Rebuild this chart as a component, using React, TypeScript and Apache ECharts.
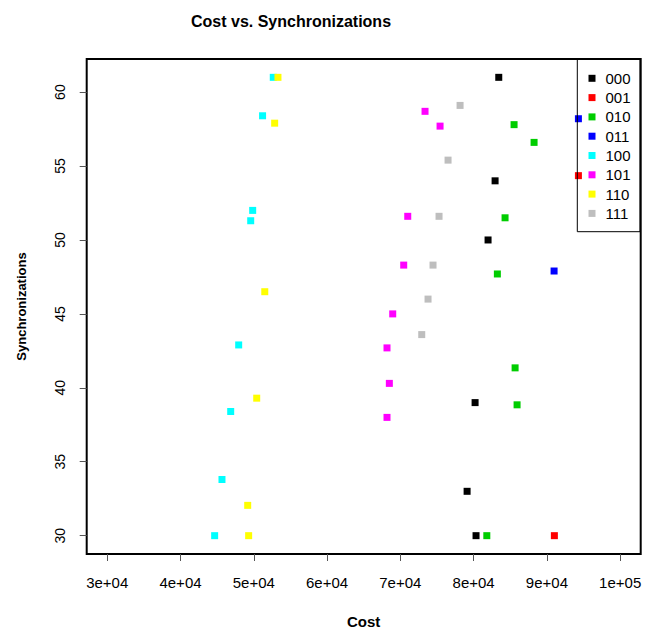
import React, { useEffect, useRef } from "react";
import * as echarts from "echarts";

// ---- data ----
const categories = ["000", "001", "010", "011", "100", "101", "110", "111"];
const colors = ["#000000", "#FF0000", "#00CD00", "#0000FF", "#00FFFF", "#FF00FF", "#FFFF00", "#BEBEBE"];

const cost000 = [83430, 82930, 81970, 80200, 79110, 80330];
const sync000 = [61, 54.0, 50.0, 39.0, 33.0, 30];
const cost001 = [94300, 91020];
const sync001 = [54.35, 30];
const cost010 = [85520, 88250, 84290, 83240, 85660, 85930, 81800];
const sync010 = [57.8, 56.6, 51.5, 47.7, 41.35, 38.85, 30];
const cost011 = [94300, 90980];
const sync011 = [58.2, 47.9];
const cost100 = [52660, 51200, 49850, 49580, 47940, 46850, 45660, 44660];
const sync100 = [61, 58.4, 52.0, 51.3, 42.9, 38.4, 33.8, 30];
const cost101 = [73370, 75420, 71010, 70460, 68960, 68180, 68500, 68180];
const sync101 = [58.7, 57.7, 51.6, 48.3, 45.0, 42.7, 40.3, 38.0];
const cost110 = [53300, 52850, 51500, 50400, 49170, 49300];
const sync110 = [61, 57.9, 46.5, 39.3, 32.05, 30];
const cost111 = [78150, 76510, 75280, 74460, 73780, 72920];
const sync111 = [59.1, 55.4, 51.6, 48.3, 46.0, 43.6];

const costs = [cost000, cost001, cost010, cost011, cost100, cost101, cost110, cost111];
const syncs = [sync000, sync001, sync010, sync011, sync100, sync101, sync110, sync111];

const xTicks = [30000, 40000, 50000, 60000, 70000, 80000, 90000, 100000];
const yTicks = [30, 35, 40, 45, 50, 55, 60];

const titleText = "Cost vs. Synchronizations";
const xName = "Cost";
const yName = "Synchronizations";

const FONT = "'Liberation Sans', Arial, Helvetica, sans-serif";

function sci(v: number): string {
  const e = Math.floor(Math.log10(v));
  const m = Math.round(v / Math.pow(10, e));
  return `${m}e+${String(e).padStart(2, "0")}`;
}

export default function App() {
  const ref = useRef<HTMLDivElement>(null);
  useEffect(() => {
    if (!ref.current) return;
    const chart = echarts.init(ref.current, null, { renderer: "svg" });
    const xmin = 30000, xmax = 100000;
    const xpad = (xmax - xmin) * 0.04;
    const ymin = 30, ymax = 61;
    const ypad = (ymax - ymin) * 0.04;
    chart.setOption({
      animation: false,
      backgroundColor: "#ffffff",
      textStyle: { fontFamily: FONT },
      graphic: [
        {
          type: "text",
          x: 291,
          y: 21,
          style: {
            text: titleText,
            textAlign: "center",
            textVerticalAlign: "middle",
            fontFamily: FONT,
            fontWeight: "bold",
            fontSize: 16,
            fill: "#000",
          },
        },
      ],
      grid: {
        left: 86.7,
        right: 9.3,
        top: 59,
        bottom: 78,
        containLabel: false,
        outerBoundsMode: "none",
        show: true,
        borderColor: "#000",
        borderWidth: 2,
        backgroundColor: "transparent",
      },
      legend: {
        orient: "vertical",
        left: 577.3,
        top: 59,
        padding: [11.8, 9.5, 10.8, 11.2],
        itemGap: 4.3,
        itemWidth: 7,
        itemHeight: 7,
        icon: "rect",
        borderColor: "#000",
        borderWidth: 1,
        backgroundColor: "transparent",
        textStyle: {
          fontFamily: FONT,
          fontSize: 15,
          lineHeight: 15,
          color: "#000",
          padding: [0, 0, 0, 5],
        },
        data: categories,
      },
      xAxis: {
        type: "value",
        min: xmin - xpad,
        max: xmax + xpad,
        name: xName,
        nameLocation: "middle",
        nameGap: 60,
        nameTextStyle: { fontFamily: FONT, fontWeight: "bold", fontSize: 15, color: "#000" },
        axisLine: { show: false },
        splitLine: { show: false },
        axisTick: {
          show: true,
          length: 7,
          customValues: xTicks,
          lineStyle: { color: "#555", width: 1 },
        },
        axisLabel: {
          customValues: xTicks,
          formatter: (v: number) => sci(v),
          margin: 21,
          fontFamily: FONT,
          fontSize: 15,
          color: "#000",
        },
      },
      yAxis: {
        type: "value",
        min: ymin - ypad,
        max: ymax + ypad,
        name: yName,
        nameLocation: "middle",
        nameGap: 59,
        nameTextStyle: { fontFamily: FONT, fontWeight: "bold", fontSize: 13, color: "#000" },
        axisLine: { show: false },
        splitLine: { show: false },
        axisTick: {
          show: true,
          length: 7,
          customValues: yTicks,
          lineStyle: { color: "#555", width: 1 },
        },
        axisLabel: {
          customValues: yTicks,
          rotate: 90,
          margin: 20,
          fontFamily: FONT,
          fontSize: 14,
          color: "#000",
        },
      },
      series: categories.map((name, i) => ({
        name,
        type: "scatter",
        symbol: "rect",
        symbolSize: 7,
        itemStyle: { color: colors[i], opacity: 1 },
        data: costs[i].map((c, j) => [c, syncs[i][j]]),
      })),
    });
    return () => chart.dispose();
  }, []);
  return (
    <div
      ref={ref}
      style={{ position: "absolute", left: 0, top: 0, width: 650, height: 632, background: "#fff" }}
    />
  );
}
